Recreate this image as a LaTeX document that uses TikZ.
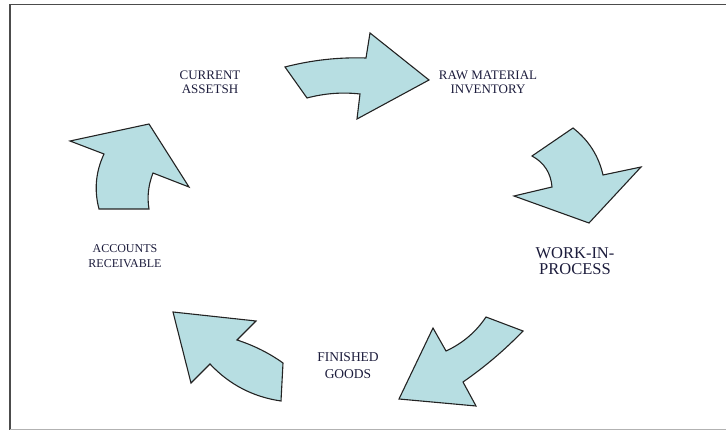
\documentclass[tikz,border=0pt]{standalone}
\usepackage{fontspec}
\setmainfont{Liberation Serif}
\definecolor{arrowfill}{RGB}{183,222,226}
\definecolor{arrowline}{RGB}{35,35,35}
\definecolor{labeltext}{RGB}{28,28,60}
\tikzset{
  cyclearrow/.style={fill=arrowfill, draw=arrowline, line width=1.1pt, line join=miter},
  lbl/.style={align=center, text=labeltext, inner sep=0pt},
  frameline/.style={draw=black!70, line width=1.3pt},
}
\begin{document}
\begin{tikzpicture}[x=1pt,y=-1pt]
\useasboundingbox (0,0) rectangle (726,430);
% frame
\draw[frameline] (10,430) -- (10,4.5) -- (726,4.5);
\draw[draw=black!30, line width=1pt] (10,429.3) -- (726,429.3);

% arrow 1: top, pointing right
\path[cyclearrow] (285,67) .. controls (311.5,60.1) and (338.5,57.1) .. (366,58) -- (370,33) -- (429,80)
  -- (357,119) -- (360,94) .. controls (342.3,92) and (324.7,93.3) .. (307,98) -- cycle;
% arrow 2: right, pointing down
\path[cyclearrow] (573,128) .. controls (588.6,140.1) and (598.6,155.7) .. (603,175) -- (641,167) -- (589,223)
  -- (514,196) -- (552,187) .. controls (550.9,173.1) and (544.3,162.7) .. (532,156) -- cycle;
% arrow 3: bottom right, pointing down-left
\path[cyclearrow] (486,317) -- (523,331) .. controls (504.7,350) and (484.7,367) .. (463,382) -- (476,406)
  -- (399,399) -- (433,328) -- (446,351) .. controls (462.5,343.4) and (475.9,332.1) .. cycle;
% arrow 4: bottom left, pointing up-left
\path[cyclearrow] (173,312) -- (256,321) -- (237,340) .. controls (253.5,345.3) and (268.9,352.9) .. (283,363)
  -- (281,401) .. controls (253,396.9) and (229.3,384.6) .. (210,364) -- (191,383) -- cycle;
% arrow 5: left, pointing up
\path[cyclearrow] (70,141) -- (149,124) -- (189,187) -- (153,173) .. controls (148.3,185) and (147,197) .. (149,209)
  -- (99,209) .. controls (94,190) and (95.7,171.7) .. (104,154) -- cycle;

% labels
\node[lbl, font=\fontsize{13}{14.3}\selectfont] (ca) at (210,82) {CURRENT\\ASSETSH};
\node[lbl, font=\fontsize{13}{14.3}\selectfont] (rm) at (488,82) {RAW MATERIAL\\INVENTORY};
\node[lbl, font=\fontsize{16.5}{16}\selectfont] (wip) at (575,261) {WORK-IN-\\PROCESS};
\node[lbl, font=\fontsize{13.5}{17}\selectfont] (fg) at (348,366) {FINISHED\\GOODS};
\node[lbl, font=\fontsize{12}{15}\selectfont] (ar) at (125,256) {ACCOUNTS\\RECEIVABLE};
\end{tikzpicture}
\end{document}
